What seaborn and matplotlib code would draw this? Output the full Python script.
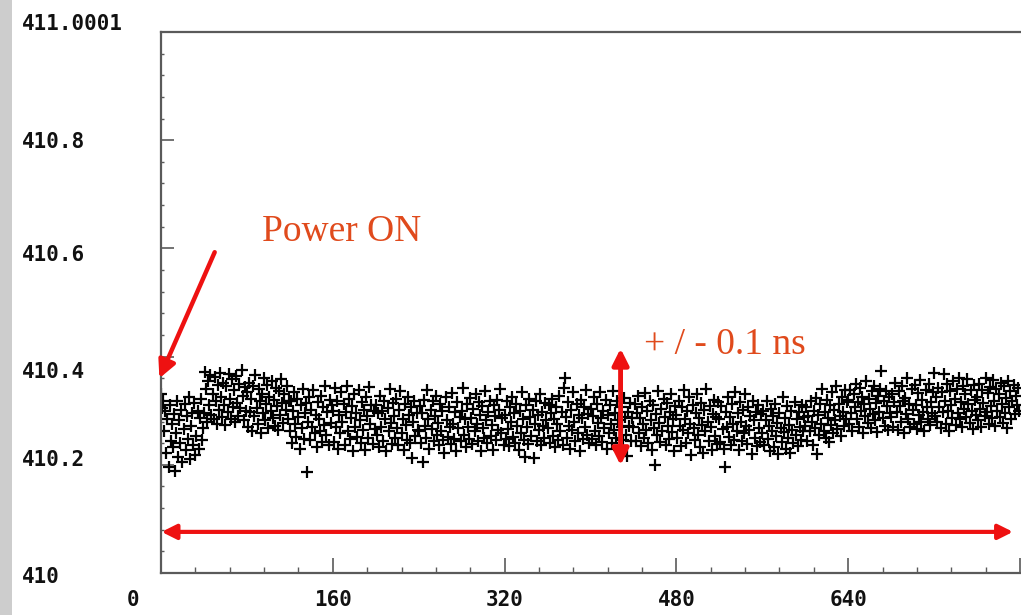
import numpy as np
import pandas as pd
import matplotlib
matplotlib.use("Agg")
import matplotlib.pyplot as plt
from matplotlib.ticker import MultipleLocator, FixedLocator
from matplotlib.transforms import ScaledTranslation
from matplotlib.patches import Rectangle
import seaborn as sns

# ---------------- data (delay, in ps above 410 ns; one sample per x step) ----------------
BASE_NS = 410.0
row00 = [330, 305, 318, 262, 300, 222, 285, 196, 310, 244, 276, 232, 294, 188, 258, 318, 214, 282, 240, 302,
         205, 266, 312, 228, 290, 248, 325, 210, 272, 296, 236, 315, 218, 254, 300, 230, 286, 322, 246, 268]
row01 = [296, 372, 340, 280, 355, 310, 366, 292, 330, 285, 362, 318, 276, 348, 302, 370, 326, 288, 352, 310,
         274, 345, 298, 368, 322, 284, 358, 306, 338, 279, 364, 314, 290, 350, 305, 375, 328, 282, 344, 300]
row02 = [335, 270, 352, 298, 322, 262, 345, 290, 366, 305, 276, 340, 318, 258, 330, 295, 360, 282, 312, 348,
         268, 326, 300, 355, 286, 320, 272, 342, 308, 264, 336, 292, 358, 315, 278, 330, 302, 346, 284, 318]
row03 = [262, 318, 240, 300, 335, 276, 252, 322, 288, 230, 310, 268, 340, 248, 296, 315, 186, 280, 326, 245,
         302, 270, 338, 258, 292, 232, 316, 284, 262, 328, 242, 306, 274, 345, 255, 298, 236, 320, 278, 310]
row04 = [300, 242, 342, 270, 318, 230, 292, 258, 334, 280, 312, 236, 298, 345, 262, 322, 248, 286, 308, 226,
         330, 270, 296, 252, 338, 282, 240, 316, 264, 302, 228, 326, 290, 250, 344, 276, 310, 238, 300, 266]
row05 = [310, 256, 295, 232, 328, 270, 300, 244, 318, 285, 226, 305, 262, 340, 278, 238, 314, 290, 250, 322,
         268, 236, 302, 336, 258, 284, 228, 312, 274, 246, 326, 292, 240, 306, 212, 280, 318, 254, 296, 264]
row06 = [262, 308, 240, 296, 205, 320, 272, 250, 338, 284, 230, 302, 266, 318, 244, 290, 328, 256, 278, 236,
         312, 262, 300, 246, 222, 326, 282, 252, 306, 270, 238, 332, 276, 248, 298, 226, 316, 268, 288, 244]
row07 = [300, 342, 256, 284, 232, 312, 270, 248, 324, 286, 238, 304, 262, 330, 276, 244, 316, 292, 226, 308,
         268, 250, 336, 282, 240, 298, 318, 254, 274, 228, 310, 290, 246, 320, 264, 302, 340, 258, 286, 236]
row08 = [292, 248, 318, 266, 234, 306, 280, 326, 252, 296, 240, 312, 272, 228, 300, 258, 334, 284, 246, 215,
         310, 270, 238, 322, 288, 254, 302, 212, 276, 318, 244, 292, 264, 330, 236, 298, 272, 250, 314, 282]
row09 = [268, 310, 240, 296, 322, 254, 284, 232, 306, 276, 246, 328, 262, 298, 236, 342, 360, 288, 250, 316,
         272, 230, 302, 264, 334, 280, 244, 312, 258, 292, 226, 320, 286, 248, 306, 270, 338, 256, 294, 240]
row10 = [304, 248, 290, 326, 262, 236, 312, 278, 254, 334, 286, 242, 300, 268, 320, 230, 292, 258, 310, 276,
         240, 336, 264, 296, 250, 318, 282, 228, 306, 270, 246, 324, 288, 256, 216, 298, 272, 314, 244, 286]
row11 = [270, 312, 244, 296, 328, 258, 286, 234, 306, 276, 250, 332, 264, 300, 240, 318, 282, 228, 310, 268,
         200, 294, 256, 336, 278, 242, 304, 262, 322, 288, 236, 314, 272, 248, 298, 330, 260, 284, 226, 308]
row12 = [292, 250, 318, 272, 234, 306, 264, 338, 284, 240, 300, 258, 326, 276, 218, 310, 268, 246, 296, 330,
         256, 286, 232, 314, 274, 222, 302, 262, 340, 280, 244, 308, 270, 228, 294, 320, 254, 288, 238, 316]
row13 = [284, 242, 308, 266, 230, 196, 298, 270, 326, 252, 288, 236, 312, 276, 246, 334, 262, 296, 228, 316,
         280, 244, 302, 258, 330, 272, 238, 306, 264, 290, 220, 318, 282, 250, 298, 234, 310, 268, 242, 294]
row14 = [258, 300, 236, 282, 318, 248, 272, 226, 304, 262, 290, 232, 312, 254, 278, 220, 296, 268, 242, 326,
         260, 286, 230, 308, 250, 274, 222, 300, 264, 240, 316, 256, 284, 234, 298, 270, 246, 310, 262, 288]
row15 = [272, 306, 244, 290, 262, 318, 280, 236, 300, 268, 324, 220, 292, 256, 312, 276, 340, 262, 298, 250,
         320, 286, 242, 310, 274, 334, 258, 302, 282, 346, 266, 312, 290, 254, 326, 298, 272, 338, 284, 316]
row16 = [320, 276, 338, 296, 262, 330, 306, 350, 284, 316, 270, 342, 300, 326, 258, 312, 290, 354, 278, 322,
         304, 268, 336, 294, 346, 282, 314, 260, 328, 298, 340, 374, 286, 318, 272, 336, 308, 264, 326, 296]
row17 = [288, 330, 270, 316, 352, 298, 264, 336, 308, 280, 346, 318, 258, 324, 294, 360, 284, 312, 270, 340,
         302, 276, 348, 310, 266, 332, 292, 356, 280, 320, 298, 262, 338, 306, 284, 350, 274, 316, 296, 334]
row18 = [370, 290, 326, 280, 342, 306, 268, 334, 298, 368, 318, 276, 350, 300, 262, 336, 310, 286, 354, 322,
         274, 340, 296, 360, 284, 316, 270, 346, 304, 330, 288, 358, 312, 278, 338, 300, 266, 348, 320, 292]
row19 = [326, 282, 350, 304, 270, 338, 314, 290, 360, 298, 332, 276, 344, 308, 286, 356, 318, 272, 340, 300,
         330, 288, 352, 312, 278, 346, 296, 324, 268, 354, 306, 336, 284, 318, 348, 294, 328, 310, 342, 300]

delay_ps = (row00 + row01 + row02 + row03 + row04 + row05 + row06 + row07 + row08 + row09 +
            row10 + row11 + row12 + row13 + row14 + row15 + row16 + row17 + row18 + row19)
sample = np.arange(len(delay_ps))

x_ticks = [0, 160, 320, 480, 640, 800]
x_tick_labels = ["0", "160", "320", "480", "640", ""]
y_ticks = [410.0, 410.2, 410.4, 410.6, 410.8, 411.0]
y_tick_labels = ["410", "410.2", "410.4", "410.6", "410.8", "411.0001"]

df = pd.DataFrame({"sample": sample, "delay": BASE_NS + np.array(delay_ps) / 1000.0})

# ---------------- figure ----------------
sns.set_style("white")
plt.rcParams["font.family"] = ["DejaVu Sans"]

fig = plt.figure(figsize=(10.21, 6.15), dpi=100)
ax = fig.add_axes([161 / 1021, 1 - 573 / 615, (1020 - 161) / 1021, (573 - 32) / 615])

sns.scatterplot(data=df, x="sample", y="delay", marker="+", color="black",
                s=70, linewidth=1.6, ax=ax, legend=False)

ax.set_xlim(0, 800)
ax.set_ylim(410.0, 411.0)
ax.set_xlabel("")
ax.set_ylabel("")

ax.xaxis.set_major_locator(FixedLocator(x_ticks))
ax.set_xticklabels(x_tick_labels)
ax.xaxis.set_minor_locator(MultipleLocator(32))
ax.yaxis.set_major_locator(FixedLocator(y_ticks))
ax.set_yticklabels(y_tick_labels)
ax.yaxis.set_minor_locator(MultipleLocator(0.04))

spine_col = "#5a5a5a"
for side in ["left", "top", "bottom"]:
    ax.spines[side].set_color(spine_col)
    ax.spines[side].set_linewidth(1.6)
ax.spines["right"].set_visible(False)

ax.tick_params(axis="x", which="major", direction="in", length=11, width=1.2,
               color=spine_col, pad=12, bottom=True)
ax.tick_params(axis="x", which="minor", direction="in", length=4.5, width=1.0,
               color=spine_col, bottom=True)
ax.tick_params(axis="y", which="major", direction="in", length=9, width=1.2,
               color=spine_col, pad=100, left=True)
ax.tick_params(axis="y", which="minor", direction="in", length=2.5, width=1.0,
               color=spine_col, left=True)
for lbl in ax.get_xticklabels() + ax.get_yticklabels():
    lbl.set_fontfamily("DejaVu Sans Mono")
    lbl.set_fontweight("bold")
    lbl.set_fontsize(15)
    lbl.set_color("#111111")
for lbl in ax.get_yticklabels():
    lbl.set_horizontalalignment("left")

# quirky label offsets of the original screen capture (pixels)
zero_tick = ax.xaxis.get_major_ticks()[0]
zero_tick.label1.set_transform(zero_tick.label1.get_transform()
                               + ScaledTranslation(-0.28, 0, fig.dpi_scale_trans))
y_label_shift_px = [-2, 7, -13, -5, 0, 10]
for tick, dy in zip(ax.yaxis.get_major_ticks(), y_label_shift_px):
    tick.label1.set_transform(tick.label1.get_transform()
                              + ScaledTranslation(0, dy / 100, fig.dpi_scale_trans))

# gray strip at the left edge
fig.patches.append(Rectangle((0, 0), 12 / 1021, 1, transform=fig.transFigure,
                             facecolor="#cdcdcd", edgecolor="none", zorder=0))

# ---------------- annotations ----------------
red = "#ee1111"
txt_col = "#e04a1c"
serif = ["Liberation Serif", "DejaVu Serif"]

ax.annotate("", xy=(-1.5, 410.36), xytext=(50, 410.593),
            arrowprops=dict(arrowstyle="-|>", color=red, lw=3.2, mutation_scale=26,
                            shrinkA=0, shrinkB=0),
            annotation_clip=False)
ax.text(94, 410.630, "Power ON", color=txt_col, fontsize=27, family=serif,
        va="center", ha="left")

ax.annotate("", xy=(428, 410.199), xytext=(428, 410.415),
            arrowprops=dict(arrowstyle="<|-|>", color=red, lw=3.5, mutation_scale=24,
                            shrinkA=0, shrinkB=0),
            annotation_clip=False)
ax.text(450, 410.421, "+ / - 0.1 ns", color=txt_col, fontsize=27, family=serif,
        va="center", ha="left")

ax.annotate("", xy=(0.5, 410.076), xytext=(793.5, 410.076),
            arrowprops=dict(arrowstyle="<|-|>", color=red, lw=3.0, mutation_scale=22,
                            shrinkA=0, shrinkB=0),
            annotation_clip=False)

fig.savefig("out.png", dpi=100)
